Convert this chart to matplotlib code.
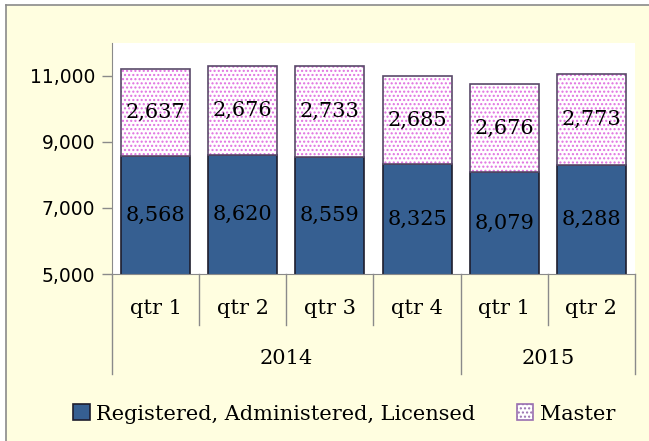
import matplotlib
matplotlib.use("Agg")
import matplotlib.pyplot as plt
from matplotlib.patches import Rectangle, Patch
from matplotlib.lines import Line2D
from matplotlib.ticker import FuncFormatter

quarters = ["qtr 1", "qtr 2", "qtr 3", "qtr 4", "qtr 1", "qtr 2"]
years = ["2014", "2015"]
year_spans = [(0, 3), (4, 5)]
registered = [8568, 8620, 8559, 8325, 8079, 8288]
master = [2637, 2676, 2733, 2685, 2676, 2773]

W, H = 649, 441
fig = plt.figure(figsize=(W / 100, H / 100), dpi=100, facecolor="white")

cream = "#FFFEE0"
fig.patches.append(Rectangle((6 / W, 0), 1, 1 - 5 / H, transform=fig.transFigure,
                             facecolor=cream, edgecolor="none", zorder=-10))
fig.add_artist(Line2D([6 / W, 6 / W], [0, 1 - 5 / H], transform=fig.transFigure,
                      color="#8a8a8a", lw=1.2))
fig.add_artist(Line2D([6 / W, 1], [1 - 5 / H, 1 - 5 / H], transform=fig.transFigure,
                      color="#8a8a8a", lw=1.2))

left, right, top, bottom = 112, 635, 43, 274
ax = fig.add_axes([left / W, 1 - bottom / H, (right - left) / W, (bottom - top) / H])
ax.set_facecolor("white")
ax.set_zorder(1)

x = list(range(len(quarters)))
blue = "#365F91"
bw = 0.79
ax.bar(x, registered, width=bw, color=blue, edgecolor="#1e1e2e", linewidth=1.2, zorder=2)
plt.rcParams["hatch.linewidth"] = 1.0
ax.bar(x, master, width=bw, bottom=registered, color="white", edgecolor="#E070E0",
       hatch="....", linewidth=0, zorder=2)
ax.bar(x, master, width=bw, bottom=registered, fill=False, edgecolor="#5a4a6a",
       linewidth=1.2, zorder=3)

serif = "DejaVu Serif"
fs = 15
for i in x:
    ax.text(i, 5000 + (registered[i] - 5000) / 2, f"{registered[i]:,}", ha="center",
            va="center", fontsize=fs, family=serif, color="black", zorder=4)
    ax.text(i, registered[i] + master[i] / 2, f"{master[i]:,}", ha="center",
            va="center", fontsize=fs, family=serif, color="black", zorder=4)

ax.set_ylim(5000, 12000)
ax.set_xlim(-0.5, len(quarters) - 0.5)
ax.set_yticks([5000, 7000, 9000, 11000])
ax.yaxis.set_major_formatter(FuncFormatter(lambda v, p: f"{int(v):,}"))
ax.tick_params(axis="y", labelsize=13.5, length=7, color="#8a8a8a", width=1, pad=5)
ax.tick_params(axis="x", length=0, labelbottom=False)
for s in ["top", "right"]:
    ax.spines[s].set_visible(False)
ax.spines["left"].set_color("#8a8a8a")
ax.spines["bottom"].set_color("#8a8a8a")

ah = bottom - top
short_y = -(325 - bottom) / ah
long_y = -(374 - bottom) / ah
tr = ax.get_xaxis_transform()
lc = "#8a8a8a"
for b in [0.5, 1.5, 2.5, 4.5]:
    ax.plot([b, b], [0, short_y], transform=tr, color=lc, lw=1, clip_on=False)
for b in [-0.5, 3.5, 5.5]:
    ax.plot([b, b], [0, long_y], transform=tr, color=lc, lw=1, clip_on=False)

for i, q in enumerate(quarters):
    ax.text(i, -(309 - bottom) / ah, q, transform=tr, ha="center", va="center",
            fontsize=fs, family=serif)
for yname, (a, b) in zip(years, year_spans):
    ax.text((a + b) / 2, -(358 - bottom) / ah, yname, transform=tr, ha="center",
            va="center", fontsize=fs, family=serif)

handles = [Patch(facecolor=blue, edgecolor="#1e1e2e", linewidth=1.2),
           Patch(facecolor="white", edgecolor="#9a70b0", hatch="....", linewidth=1.2)]
fig.legend(handles, ["Registered, Administered, Licensed", "Master"],
           loc="center", bbox_to_anchor=(0.53, 1 - 414 / H), ncol=2, frameon=False,
           prop={"family": serif, "size": fs}, handlelength=0.8, handleheight=0.8,
           handletextpad=0.3, columnspacing=2.0)

fig.savefig("out.png", dpi=100, facecolor="white")
